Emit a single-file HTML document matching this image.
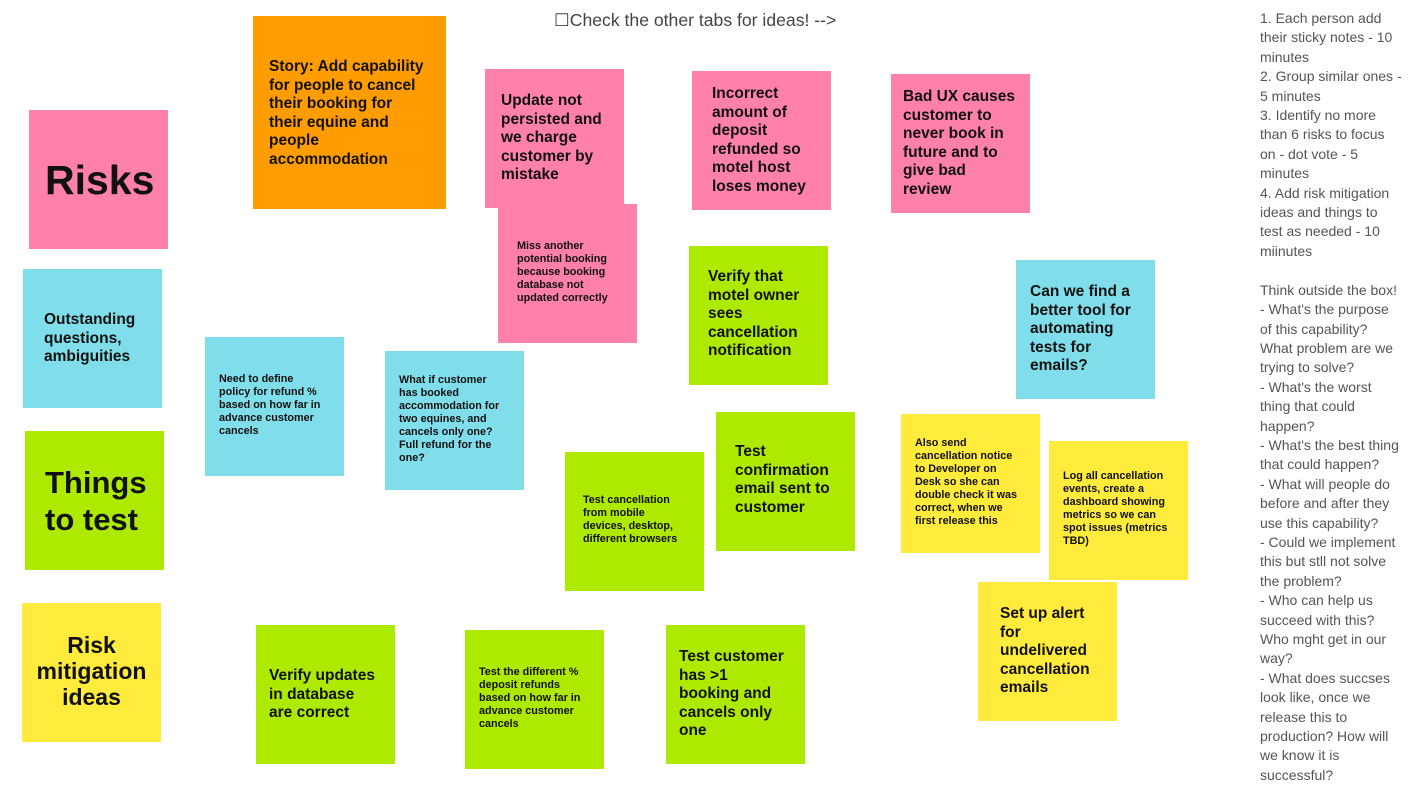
<!DOCTYPE html>
<html><head><meta charset="utf-8"><style>
body{margin:0;width:1422px;height:800px;background:#fff;position:relative;overflow:hidden;font-family:"Liberation Sans",sans-serif}
.n{position:absolute;width:139px;height:139px;box-sizing:border-box}
.t{position:absolute;font-weight:bold;color:#111;white-space:nowrap}
.m{font-size:15.5px;line-height:18.5px}
.s{font-size:10.8px;line-height:13px}
.p{background:#ff80ab}.o{background:#ff9d00}.b{background:#80deea}.g{background:#aeea00}.y{background:#ffeb3b}
#hdr{position:absolute;left:554px;top:10px;font-size:17.6px;color:#444}
#side{position:absolute;left:1260px;top:9px;font-size:14px;line-height:19.4px;color:#555;white-space:nowrap}
</style></head><body>
<div id="hdr">☐Check the other tabs for ideas! --&gt;</div>

<div class="n p" style="left:29px;top:110px"></div>
<div class="t" style="left:45px;top:156px;font-size:41px;line-height:48px">Risks</div>

<div class="n o" style="left:253px;top:16px;width:193px;height:193px"></div>
<div class="t m" style="left:269px;top:58px">Story: Add capability<br>for people to cancel<br>their booking for<br>their equine and<br>people<br>accommodation</div>

<div class="n p" style="left:485px;top:69px"></div>
<div class="t m" style="left:501px;top:92px">Update not<br>persisted and<br>we charge<br>customer by<br>mistake</div>

<div class="n p" style="left:498px;top:204px"></div>
<div class="t s" style="left:517px;top:240px">Miss another<br>potential booking<br>because booking<br>database not<br>updated correctly</div>

<div class="n p" style="left:692px;top:71px"></div>
<div class="t m" style="left:712px;top:85px">Incorrect<br>amount of<br>deposit<br>refunded so<br>motel host<br>loses money</div>

<div class="n p" style="left:891px;top:74px"></div>
<div class="t m" style="left:903px;top:88px">Bad UX causes<br>customer to<br>never book in<br>future and to<br>give bad<br>review</div>

<div class="n b" style="left:23px;top:269px"></div>
<div class="t m" style="left:44px;top:311px">Outstanding<br>questions,<br>ambiguities</div>

<div class="n b" style="left:205px;top:337px"></div>
<div class="t s" style="left:219px;top:373px">Need to define<br>policy for refund %<br>based on how far in<br>advance customer<br>cancels</div>

<div class="n b" style="left:385px;top:351px"></div>
<div class="t s" style="left:399px;top:374px">What if customer<br>has booked<br>accommodation for<br>two equines, and<br>cancels only one?<br>Full refund for the<br>one?</div>

<div class="n g" style="left:689px;top:246px"></div>
<div class="t m" style="left:708px;top:268px">Verify that<br>motel owner<br>sees<br>cancellation<br>notification</div>

<div class="n b" style="left:1016px;top:260px"></div>
<div class="t m" style="left:1030px;top:283px">Can we find a<br>better tool for<br>automating<br>tests for<br>emails?</div>

<div class="n g" style="left:25px;top:431px"></div>
<div class="t" style="left:45px;top:464px;font-size:31px;line-height:37px">Things<br>to test</div>

<div class="n g" style="left:565px;top:452px"></div>
<div class="t s" style="left:583px;top:494px">Test cancellation<br>from mobile<br>devices, desktop,<br>different browsers</div>

<div class="n g" style="left:716px;top:412px"></div>
<div class="t m" style="left:735px;top:443px">Test<br>confirmation<br>email sent to<br>customer</div>

<div class="n y" style="left:901px;top:414px"></div>
<div class="t s" style="left:915px;top:437px">Also send<br>cancellation notice<br>to Developer on<br>Desk so she can<br>double check it was<br>correct, when we<br>first release this</div>

<div class="n y" style="left:1049px;top:441px"></div>
<div class="t s" style="left:1063px;top:470px">Log all cancellation<br>events, create a<br>dashboard showing<br>metrics so we can<br>spot issues (metrics<br>TBD)</div>

<div class="n y" style="left:978px;top:582px"></div>
<div class="t m" style="left:1000px;top:605px">Set up alert<br>for<br>undelivered<br>cancellation<br>emails</div>

<div class="n y" style="left:22px;top:603px"></div>
<div class="t" style="left:22px;width:139px;text-align:center;top:632px;font-size:23px;line-height:26px">Risk<br>mitigation<br>ideas</div>

<div class="n g" style="left:256px;top:625px"></div>
<div class="t m" style="left:269px;top:667px">Verify updates<br>in database<br>are correct</div>

<div class="n g" style="left:465px;top:630px"></div>
<div class="t s" style="left:479px;top:666px">Test the different %<br>deposit refunds<br>based on how far in<br>advance customer<br>cancels</div>

<div class="n g" style="left:666px;top:625px"></div>
<div class="t m" style="left:679px;top:648px">Test customer<br>has &gt;1<br>booking and<br>cancels only<br>one</div>

<div id="side">1. Each person add<br>their sticky notes - 10<br>minutes<br>2. Group similar ones -<br>5 minutes<br>3. Identify no more<br>than 6 risks to focus<br>on - dot vote - 5<br>minutes<br>4. Add risk mitigation<br>ideas and things to<br>test as needed - 10<br>miinutes<br><br>Think outside the box!<br>- What's the purpose<br>of this capability?<br>What problem are we<br>trying to solve?<br>- What's the worst<br>thing that could<br>happen?<br>- What's the best thing<br>that could happen?<br>- What will people do<br>before and after they<br>use this capability?<br>- Could we implement<br>this but stll not solve<br>the problem?<br>- Who can help us<br>succeed with this?<br>Who mght get in our<br>way?<br>- What does succses<br>look like, once we<br>release this to<br>production? How will<br>we know it is<br>successful?</div>
</body></html>
